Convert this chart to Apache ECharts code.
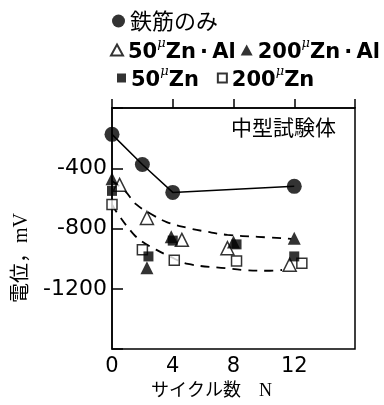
<!DOCTYPE html>
<html><head><meta charset="utf-8">
<script src="https://cdn.jsdelivr.net/npm/echarts@6/dist/echarts.min.js"></script>
<style>html,body{margin:0;padding:0;background:#fff}#c{width:384px;height:405px}</style>
</head><body><div id="c"></div>
<script>
const seriesNames = ['鉄筋のみ', '50μZn·Al', '200μZn·Al', '50μZn', '200μZn'];
const rebarX = [0, 2, 4, 12];
const rebarY = [-175, -375, -560, -520];
const zn50alX = [0.5, 2.3, 4.6, 7.6, 11.7];
const zn50alY = [-510, -730, -875, -930, -1040];
const zn200alX = [0, 2.3, 3.9, 8.0, 12.0];
const zn200alY = [-470, -1060, -855, -890, -865];
const zn50X = [0, 2.4, 4.0, 8.2, 12.0];
const zn50Y = [-550, -985, -880, -905, -985];
const zn200X = [0, 2.0, 4.1, 8.2, 12.5];
const zn200Y = [-640, -940, -1010, -1015, -1030];
const upperCurveX = [0, 0.85, 1.6, 2.6, 3.6, 5, 6.3, 7.6, 9.6, 11.8];
const upperCurveY = [-485, -550, -640, -705, -757, -796, -822, -842, -855, -868];
const lowerCurveX = [0, 0.4, 1.4, 2.0, 2.9, 3.8, 5, 7.5, 8.6, 10.4, 11.2];
const lowerCurveY = [-640, -705, -835, -887, -940, -985, -1035, -1063, -1075, -1080, -1075];
const xTickLabels = [0, 4, 8, 12];
const yTickLabels = [-400, -800, -1200];
const panelTitle = '中型試験体';
const xName = 'サイクル数　N';
const yName = '電位，mV';

const zip = (xs, ys) => xs.map((x, i) => [x, ys[i]]);
const latinFont = 'DejaVu Sans, sans-serif';
const cjkFont = 'Noto Sans CJK JP, sans-serif';
const serifFont = 'Liberation Serif, Noto Sans CJK JP, serif';
const open = {color: '#fff', borderColor: '#000', borderWidth: 1.5};
const solid = {color: '#000'};

const sup = n => n.replace(/^(\d+)μ(.*)$/, (m, a, b) => '{n|' + a + '}{s|μ}{n|' + b.replace('·', '\u2009·\u2009') + '}');
const legendRich = {
  n: {fontFamily: latinFont, fontWeight: 'bold', fontSize: 21, lineHeight: 26, verticalAlign: 'bottom', color: '#000'},
  s: {fontFamily: 'DejaVu Serif, serif', fontStyle: 'italic', fontSize: 13, lineHeight: 13, verticalAlign: 'top', color: '#000'}
};

const chart = echarts.init(document.getElementById('c'));
chart.setOption({
  animation: false,
  backgroundColor: '#fff',
  title: {text: panelTitle, right: 48, top: 117, padding: 0,
    textStyle: {fontFamily: cjkFont, fontWeight: 'normal', fontSize: 21, color: '#000'}},
  graphic: [{type: 'text', x: 22, y: 258, rotation: Math.PI / 2,
    style: {text: yName, fontFamily: serifFont, fontSize: 20, fill: '#000', textAlign: 'center', textVerticalAlign: 'middle'}}],
  legend: [
    {data: [seriesNames[0]], left: 112, top: 10, padding: 0, itemWidth: 13, itemHeight: 13, itemGap: 8,
      selectedMode: false, textStyle: {fontFamily: cjkFont, fontSize: 22, color: '#000'}},
    {data: [seriesNames[1], seriesNames[2]], left: 110, top: 37, width: 300, padding: 0, itemWidth: 12, itemHeight: 11, itemGap: 5,
      selectedMode: false, formatter: sup, textStyle: {rich: legendRich, color: '#000'}},
    {data: [seriesNames[3], seriesNames[4]], left: 117, top: 65, width: 300, padding: 0, itemWidth: 9, itemHeight: 9, itemGap: 18,
      selectedMode: false, formatter: sup, textStyle: {rich: legendRich, color: '#000'}}
  ],
  grid: {left: 112, right: 29, top: 108, bottom: 52, show: true, borderColor: '#000', borderWidth: 1.5, backgroundColor: 'transparent'},
  xAxis: {
    type: 'value', min: 0, max: 16, interval: 4,
    name: xName, nameLocation: 'middle', nameGap: 26,
    nameTextStyle: {fontFamily: serifFont, fontSize: 18, color: '#000', padding: [0, 44, 0, 0]},
    axisLine: {lineStyle: {color: '#000', width: 1.5}},
    axisTick: {inside: true, length: 9, lineStyle: {color: '#000', width: 1.5}},
    splitLine: {show: false},
    axisLabel: {margin: 7, fontFamily: latinFont, fontSize: 21, color: '#000',
      formatter: v => xTickLabels.includes(v) ? String(v) : ''}
  },
  yAxis: {
    type: 'value', min: -1600, max: 0, interval: 400,
    axisLine: {lineStyle: {color: '#000', width: 1.5}},
    axisTick: {inside: true, length: 11, lineStyle: {color: '#000', width: 1.5}},
    splitLine: {show: false},
    axisLabel: {margin: 5, fontFamily: latinFont, fontSize: 22, color: '#000',
      formatter: v => yTickLabels.includes(v) ? String(v) : ''}
  },
  series: [
    {type: 'line', data: zip(rebarX, rebarY), symbol: 'none', lineStyle: {color: '#000', width: 1.5}, z: 2, silent: true},
    {type: 'line', data: zip(upperCurveX, upperCurveY), symbol: 'none', smooth: 0.4, lineStyle: {color: '#000', width: 1.8, type: [9, 7]}, z: 2, silent: true},
    {type: 'line', data: zip(lowerCurveX, lowerCurveY), symbol: 'none', smooth: 0.4, lineStyle: {color: '#000', width: 1.8, type: [9, 7]}, z: 2, silent: true},
    {name: seriesNames[4], type: 'scatter', data: zip(zn200X, zn200Y), symbol: 'rect', symbolSize: 10, itemStyle: open, z: 3},
    {name: seriesNames[1], type: 'scatter', data: zip(zn50alX, zn50alY), symbol: 'triangle', symbolSize: 13, itemStyle: open, z: 3},
    {name: seriesNames[3], type: 'scatter', data: zip(zn50X, zn50Y), symbol: 'rect', symbolSize: 10, itemStyle: solid, z: 4},
    {name: seriesNames[2], type: 'scatter', data: zip(zn200alX, zn200alY), symbol: 'triangle', symbolSize: 13, itemStyle: solid, z: 4},
    {name: seriesNames[0], type: 'scatter', data: zip(rebarX, rebarY), symbol: 'circle', symbolSize: 15, itemStyle: solid, z: 5}
  ]
});
</script></body></html>
